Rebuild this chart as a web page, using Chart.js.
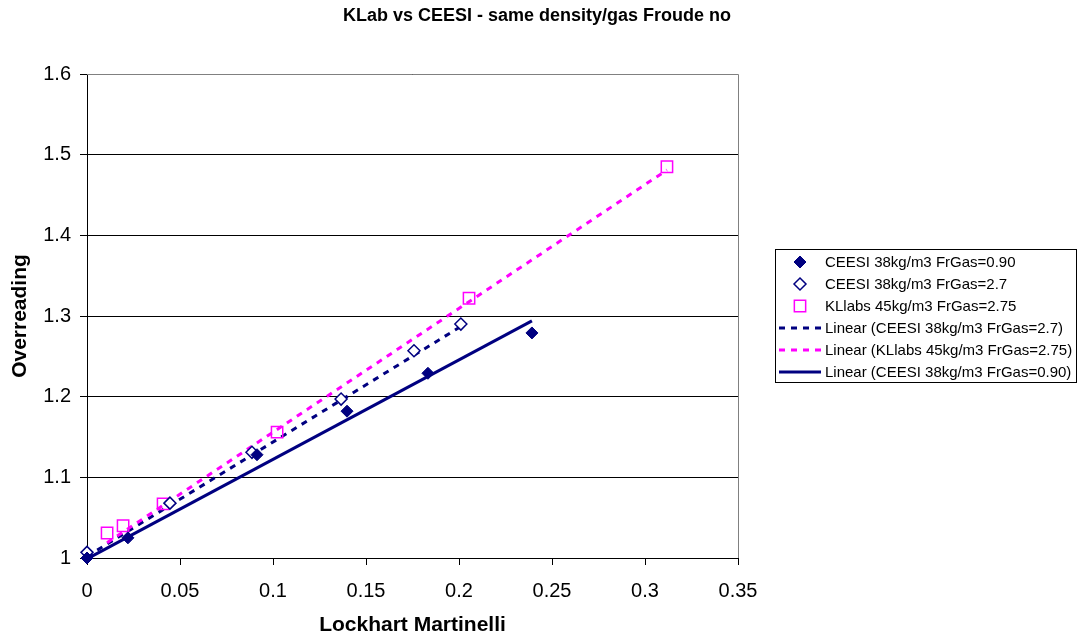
<!DOCTYPE html>
<html>
<head>
<meta charset="utf-8">
<script src="https://cdn.jsdelivr.net/npm/chart.js@4"></script>
<style>
  html, body { margin: 0; padding: 0; background: #fff; }
  #wrap { width: 1078px; height: 638px; position: relative; }
</style>
</head>
<body>
<div id="wrap"><canvas id="chart"></canvas></div>
<script>
// ===== Dados
const ceesi090X = [0, 0.022, 0.0914, 0.1398, 0.1833, 0.2392];
const ceesi090Y = [1.000, 1.025, 1.128, 1.182, 1.229, 1.279];
const ceesi27X = [0, 0.0446, 0.0887, 0.1366, 0.1758, 0.2010];
const ceesi27Y = [1.007, 1.068, 1.131, 1.197, 1.257, 1.290];
const klabsX = [0.0108, 0.0194, 0.0409, 0.1022, 0.2054, 0.3118];
const klabsY = [1.031, 1.040, 1.067, 1.156, 1.322, 1.485];

// linhas de tendência (pontas)
const trend27X = [0, 0.2010];
const trend27Y = [1.002, 1.287];
const trendKlX = [0.0108, 0.3118];
const trendKlY = [1.019, 1.481];
const trend090X = [0, 0.2392];
const trend090Y = [0.999, 1.294];

const xTickLabels = ['0', '0.05', '0.1', '0.15', '0.2', '0.25', '0.3', '0.35'];
const yTickLabels = ['1', '1.1', '1.2', '1.3', '1.4', '1.5', '1.6'];

const NAVY = '#000080';
const MAGENTA = '#FF00FF';
const FONT = '"Liberation Sans", Arial, sans-serif';

const pts = (xs, ys) => xs.map((x, i) => ({ x, y: ys[i] }));

// ===== Datasets (ordem = ordem da legenda)
const datasets = [
    { label: 'CEESI 38kg/m3 FrGas=0.90', data: pts(ceesi090X, ceesi090Y), pointStyle: 'rectRot',
      pointRadius: 6, backgroundColor: NAVY, borderColor: NAVY, pointBorderWidth: 1, showLine: false, order: 0 },
    { label: 'CEESI 38kg/m3 FrGas=2.7', data: pts(ceesi27X, ceesi27Y), pointStyle: 'rectRot',
      pointRadius: 6, backgroundColor: '#fff', borderColor: NAVY, pointBorderWidth: 1.5, showLine: false, order: 1 },
    { label: 'KLlabs 45kg/m3 FrGas=2.75', data: pts(klabsX, klabsY), pointStyle: 'rect',
      pointRadius: 8, backgroundColor: 'rgba(255,255,255,0)', borderColor: MAGENTA, pointBorderWidth: 1.5, showLine: false, order: 2 },
    { label: 'Linear (CEESI 38kg/m3 FrGas=2.7)', data: pts(trend27X, trend27Y), showLine: true,
      borderColor: NAVY, borderWidth: 3, borderDash: [6, 6], pointRadius: 0, order: 5 },
    { label: 'Linear (KLlabs 45kg/m3 FrGas=2.75)', data: pts(trendKlX, trendKlY), showLine: true,
      borderColor: MAGENTA, borderWidth: 3, borderDash: [6, 6], pointRadius: 0, order: 4 },
    { label: 'Linear (CEESI 38kg/m3 FrGas=0.90)', data: pts(trend090X, trend090Y), showLine: true,
      borderColor: NAVY, borderWidth: 3, pointRadius: 0, order: 3 }
];
datasets.forEach(d => { d.clip = false; });

// ===== Plugin: título, borda da área e legenda em caixa
const excelDecor = {
    id: 'excelDecor',
    afterDraw(chart) {
        const { ctx, chartArea: a } = chart;
        ctx.save();
        // título
        ctx.fillStyle = '#000';
        ctx.font = `bold 18px ${FONT}`;
        ctx.textAlign = 'center';
        ctx.textBaseline = 'middle';
        ctx.fillText('KLab vs CEESI - same density/gas Froude no', 537, 16);

        // borda direita/topo cinza
        ctx.strokeStyle = '#808080';
        ctx.lineWidth = 1;
        ctx.beginPath();
        ctx.moveTo(a.left, a.top + 0.5);
        ctx.lineTo(a.right + 0.5, a.top + 0.5);
        ctx.lineTo(a.right + 0.5, a.bottom);
        ctx.stroke();

        // legenda
        const bx = 775, by = 249, bw = 302, bh = 134;
        ctx.fillStyle = '#fff';
        ctx.fillRect(bx, by, bw, bh);
        ctx.strokeStyle = '#000';
        ctx.strokeRect(bx + 0.5, by + 0.5, bw - 1, bh - 1);
        ctx.font = `15px ${FONT}`;
        ctx.textAlign = 'left';
        chart.data.datasets.forEach((ds, i) => {
            const y = 262 + i * 22;
            if (ds.showLine) {
                ctx.strokeStyle = ds.borderColor;
                ctx.lineWidth = 3;
                ctx.setLineDash(ds.borderDash || []);
                ctx.beginPath();
                ctx.moveTo(779, y);
                ctx.lineTo(821, y);
                ctx.stroke();
                ctx.setLineDash([]);
            } else {
                ctx.fillStyle = ds.backgroundColor;
                ctx.strokeStyle = ds.borderColor;
                ctx.lineWidth = ds.pointBorderWidth;
                ctx.beginPath();
                const r = ds.pointRadius;
                if (ds.pointStyle === 'rectRot') {
                    ctx.moveTo(800, y - r); ctx.lineTo(800 + r, y); ctx.lineTo(800, y + r); ctx.lineTo(800 - r, y); ctx.closePath();
                } else {
                    const s = r * Math.SQRT1_2;
                    ctx.rect(800 - s, y - s, 2 * s, 2 * s);
                }
                ctx.fill();
                ctx.stroke();
            }
            ctx.fillStyle = '#000';
            ctx.fillText(ds.label, 825, y + 1);
        });
        ctx.restore();
    }
};

new Chart(document.getElementById('chart'), {
    type: 'scatter',
    data: { datasets },
    options: {
        responsive: true,
        maintainAspectRatio: false,
        animation: false,
        layout: { padding: { left: 0, top: 74, right: 340, bottom: 0 } },
        plugins: { legend: { display: false }, title: { display: false }, tooltip: { enabled: false } },
        scales: {
            x: {
                type: 'linear', min: 0, max: 0.35,
                ticks: { stepSize: 0.05, color: '#000', padding: 14, maxRotation: 0,
                         font: { family: FONT, size: 20 },
                         callback: (v) => xTickLabels[Math.round(v / 0.05)] },
                grid: { drawOnChartArea: false, drawTicks: true, tickLength: 7, color: '#000' },
                border: { color: '#000', width: 1 },
                title: { display: true, text: 'Lockhart Martinelli', color: '#000',
                         font: { family: FONT, size: 21, weight: 'bold' }, padding: { top: 0, bottom: 0 } },
                afterFit: (s) => { s.height = 80; }
            },
            y: {
                type: 'linear', min: 1, max: 1.6,
                ticks: { stepSize: 0.1, color: '#000', padding: 9,
                         font: { family: FONT, size: 20 },
                         callback: (v) => yTickLabels[Math.round((v - 1) / 0.1)] },
                grid: { color: '#000', lineWidth: 1, tickLength: 7 },
                border: { color: '#000', width: 1 },
                title: { display: true, text: 'Overreading', color: '#000',
                         font: { family: FONT, size: 21, weight: 'bold' }, padding: { top: 8, bottom: 0 } },
                afterFit: (s) => { s.width = 87; }
            }
        }
    },
    plugins: [excelDecor]
});
</script>
</body>
</html>
